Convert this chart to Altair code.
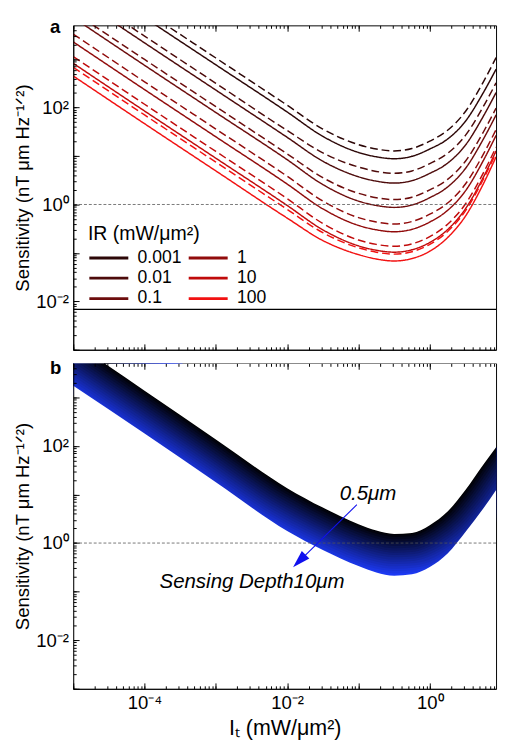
import altair as alt
import pandas as pd

FONT = "Liberation Sans"

# ---------------- data ----------------
# x positions (log10 of I_t in mW/um^2) at which the curves were read
log10_I = [-5, -4, -3, -2, -1.5, -1, -0.75, -0.5, -0.25, 0, 0.25, 0.5, 0.75, 0.93]

ir_levels = ["0.001", "0.01", "0.1", "1", "10", "100"]
ir_colors = ["#2c0707", "#4d0b0b", "#6d0d0d", "#910b0b", "#c00b0b", "#f21111"]

# panel a: log10(sensitivity)
solid_ir_0001 = [4.844, 3.859, 2.884, 1.910, 1.407, 1.075, 0.985, 0.945, 0.995, 1.146, 1.352, 1.719, 2.307, 2.794]
dashed_ir_0001 = [4.985, 4.000, 3.025, 2.050, 1.558, 1.236, 1.146, 1.106, 1.156, 1.307, 1.533, 1.920, 2.528, 3.035]
solid_ir_001 = [4.322, 3.337, 2.362, 1.387, 0.894, 0.573, 0.482, 0.442, 0.492, 0.643, 0.854, 1.226, 1.819, 2.312]
dashed_ir_001 = [4.462, 3.477, 2.503, 1.528, 1.065, 0.774, 0.683, 0.643, 0.693, 0.844, 1.055, 1.427, 2.020, 2.513]
solid_ir_01 = [3.859, 2.874, 1.899, 0.925, 0.412, 0.070, -0.020, -0.060, -0.010, 0.141, 0.362, 0.744, 1.347, 1.849]
dashed_ir_01 = [3.980, 2.995, 2.020, 1.045, 0.553, 0.231, 0.141, 0.101, 0.151, 0.302, 0.518, 0.894, 1.492, 1.990]
solid_ir_1 = [3.357, 2.372, 1.397, 0.422, -0.090, -0.432, -0.523, -0.563, -0.513, -0.362, -0.121, 0.281, 0.905, 1.427]
dashed_ir_1 = [3.518, 2.533, 1.558, 0.583, 0.070, -0.271, -0.362, -0.402, -0.352, -0.201, 0.030, 0.422, 1.035, 1.548]
solid_ir_10 = [2.915, 1.930, 0.955, -0.020, -0.523, -0.854, -0.945, -0.985, -0.935, -0.784, -0.518, -0.090, 0.558, 1.106]
dashed_ir_10 = [3.055, 2.070, 1.095, 0.121, -0.392, -0.734, -0.824, -0.864, -0.814, -0.663, -0.407, 0.010, 0.648, 1.186]
solid_ir_100 = [2.653, 1.668, 0.693, -0.281, -0.744, -1.035, -1.126, -1.166, -1.116, -0.965, -0.683, -0.241, 0.422, 0.985]
dashed_ir_100 = [2.834, 1.849, 0.874, -0.101, -0.583, -0.894, -0.985, -1.025, -0.975, -0.824, -0.558, -0.131, 0.518, 1.065]

reference_floor = 0.0068   # solid black horizontal line in panel a
unity_level = 1.0          # dashed grey line in both panels

# panel b: edges of the sensing-depth band (log10 sensitivity)
band_top_05um = [4.140, 3.137, 2.134, 1.131, 0.730, 0.389, 0.259, 0.189, 0.209, 0.369, 0.650, 1.091, 1.612, 1.973]
band_bottom_10um = [3.238, 2.255, 1.252, 0.249, -0.142, -0.473, -0.604, -0.674, -0.644, -0.493, -0.213, 0.229, 0.710, 1.091]
depths_um = [0.5, 1.0, 1.5, 2.0, 2.5, 3.0, 3.5, 4.0, 4.5, 5.0, 5.5, 6.0, 6.5, 7.0, 7.5, 8.0, 8.5, 9.0, 9.5, 10.0]

# annotation anchors (data coordinates)
arrow_start = [0.0950, 6.17]
arrow_tip = [0.0148, 0.425]
label_top = ["0.5μm", 0.0545, 10.2]
label_bottom = ["Sensing Depth10μm", 1.62e-4, 0.156]

# ---------------- tables ----------------
curves = [
    ("0.001", "solid", solid_ir_0001), ("0.001", "dashed", dashed_ir_0001),
    ("0.01", "solid", solid_ir_001), ("0.01", "dashed", dashed_ir_001),
    ("0.1", "solid", solid_ir_01), ("0.1", "dashed", dashed_ir_01),
    ("1", "solid", solid_ir_1), ("1", "dashed", dashed_ir_1),
    ("10", "solid", solid_ir_10), ("10", "dashed", dashed_ir_10),
    ("100", "solid", solid_ir_100), ("100", "dashed", dashed_ir_100),
]
rows = []
for ir, style, vals in curves:
    for lx, ly in zip(log10_I, vals):
        rows.append({"I": 10 ** lx, "S": 10 ** ly, "IR": ir, "style": style, "series": ir + style})
df_a = pd.DataFrame(rows)

df_edges = pd.DataFrame({
    "I": [10 ** v for v in log10_I],
    "S_top": [10 ** v for v in band_top_05um],
    "S_bot": [10 ** v for v in band_bottom_10um],
})
df_band = pd.DataFrame([
    {"I": 10 ** lx, "S": 10 ** ly, "depth": d}
    for d in depths_um for lx, ly in zip(log10_I, band_top_05um)
])

# ---------------- scales & axes ----------------
W, HA, HB = 434, 333, 334
X_MIN, X_MAX = 1e-5, 8.5
Y_MIN, Y_MAX = 1e-3, 5000
x_scale = alt.Scale(type="log", domain=[X_MIN, X_MAX], nice=False)
y_scale = alt.Scale(type="log", domain=[Y_MIN, Y_MAX], nice=False)

x_ticks = [m * 10.0 ** e for e in range(-5, 1) for m in range(1, 10) if m * 10.0 ** e <= X_MAX]
y_ticks = [m * 10.0 ** e for e in range(-3, 4) for m in range(1, 10) if m * 10.0 ** e < Y_MAX]
x_major = [10.0 ** e for e in range(-5, 1)]
y_major = [10.0 ** e for e in range(-3, 4)]

lg = "log(datum.value)/LN10"
x_label_expr = (f"abs({lg}+4)<0.01 ? '10⁻⁴' : abs({lg}+2)<0.01 ? '10⁻²' : "
                f"abs({lg})<0.01 ? '10⁰' : ''")
y_label_expr = (f"abs({lg}+2)<0.01 ? '10⁻²' : abs({lg})<0.01 ? '10⁰' : "
                f"abs({lg}-2)<0.01 ? '10²' : ''")

y_title = "Sensitivity (nT μm Hz⁻¹ᐟ²)"
MINOR_IN = {"expr": "-3"}
MAJOR_IN = {"expr": "-6"}


def y_axis_main():
    return alt.Axis(values=y_ticks, labelExpr=y_label_expr, title=y_title, orient="left",
                    tickSize=MINOR_IN, labelPadding=8, titlePadding=3, zindex=1)


def x_axis_main(labels):
    if labels:
        return alt.Axis(values=x_ticks, labelExpr=x_label_expr, title="Iₜ (mW/μm²)", orient="bottom",
                        tickSize=MINOR_IN, labelPadding=8, titlePadding=6, zindex=1,
                        labelFlush=False, titleFontSize=22)
    return alt.Axis(values=x_ticks, labels=False, title=None, tickSize=MINOR_IN, zindex=1,
                    orient="bottom")


def tick_axis(values, orient, size):
    return alt.Axis(values=values, labels=False, title=None, tickSize=size, zindex=1,
                    orient=orient, domain=False)


def axis_layers(df, xf, yf):
    """Invisible carriers for the extra tick sets (major ticks, top-edge ticks)."""
    base = alt.Chart(df).mark_point(opacity=0, clip=True)
    return [
        base.encode(x=alt.X(xf, scale=x_scale, axis=tick_axis(x_major, "bottom", MAJOR_IN)),
                    y=alt.Y(yf, scale=y_scale, axis=tick_axis(y_major, "left", MAJOR_IN))),
        base.encode(x=alt.X(xf, scale=x_scale, axis=tick_axis(x_ticks, "top", MINOR_IN)),
                    y=alt.Y(yf, scale=y_scale, axis=None)),
        base.encode(x=alt.X(xf, scale=x_scale, axis=tick_axis(x_major, "top", MAJOR_IN)),
                    y=alt.Y(yf, scale=y_scale, axis=None)),
    ]


def panel_letter(letter, y_px):
    return alt.Chart(pd.DataFrame({"t": [letter]})).mark_text(
        font=FONT, fontSize=19, fontWeight="bold", align="left", baseline="alphabetic",
        clip=False, color="black"
    ).encode(text="t:N", x=alt.value(-24), y=alt.value(y_px))


def unity_rule():
    return alt.Chart(pd.DataFrame({"y": [unity_level]})).mark_rule(
        color="#555555", strokeWidth=0.8, strokeDash=[3, 2]
    ).encode(y=alt.Y("y:Q", scale=y_scale, axis=None))


# ---------------- panel a ----------------
lines_a = alt.Chart(df_a).mark_line(strokeWidth=1.5, interpolate="monotone", clip=True).encode(
    x=alt.X("I:Q", scale=x_scale, axis=x_axis_main(False)),
    y=alt.Y("S:Q", scale=y_scale, axis=y_axis_main()),
    color=alt.Color("IR:N", scale=alt.Scale(domain=ir_levels, range=ir_colors),
                    legend=alt.Legend(
                        title="IR (mW/μm²)", orient="none", legendX=15, legendY=204,
                        columns=2, symbolType="M-1,0H3", symbolSize=400, symbolStrokeWidth=3,
                        labelFontSize=18, titleFontSize=20, titleFontWeight="normal",
                        titleFont=FONT, labelFont=FONT, labelOffset=28, rowPadding=0,
                        columnPadding=0, titlePadding=3, labelColor="black", titleColor="black",
                        padding=0)),
    strokeDash=alt.StrokeDash("style:N", scale=alt.Scale(domain=["solid", "dashed"],
                                                         range=[[1, 0], [8, 4]]), legend=None),
    detail="series:N",
)
floor_a = alt.Chart(pd.DataFrame({"y": [reference_floor]})).mark_rule(
    color="black", strokeWidth=1.2
).encode(y=alt.Y("y:Q", scale=y_scale, axis=None))

panel_a = alt.layer(
    lines_a, *axis_layers(df_edges, "I:Q", "S_bot:Q"), floor_a, unity_rule(), panel_letter("a", 8)
).resolve_axis(x="independent", y="independent").properties(width=W, height=HA)

# ---------------- panel b ----------------
band_layers = []
for d in reversed(depths_um):
    band_layers.append(
        alt.Chart(df_band).transform_filter(alt.datum.depth == d).mark_line(
            interpolate="monotone", clip=True, strokeJoin="round"
        ).encode(
            x=alt.X("I:Q", scale=x_scale, axis=None),
            y=alt.Y("S:Q", scale=y_scale, axis=None),
            color=alt.Color("depth:Q", scale=alt.Scale(domain=[0.5, 10], range=["#000000", "#1e3cff"],
                                                       interpolate="rgb"), legend=None),
            strokeWidth=alt.StrokeWidth("depth:Q", scale=alt.Scale(domain=[0.5, 10], range=[1.5, 90]),
                                        legend=None),
        )
    )

cover_top = alt.Chart(df_edges).mark_area(color="white", interpolate="monotone", clip=True,
                                          opacity=1).encode(
    x=alt.X("I:Q", scale=x_scale, axis=None),
    y=alt.Y("S_top:Q", scale=y_scale, axis=None),
    y2=alt.Y2(datum=Y_MAX),
)
cover_bottom = alt.Chart(df_edges).mark_area(color="white", interpolate="monotone", clip=True,
                                             opacity=1).encode(
    x=alt.X("I:Q", scale=x_scale, axis=x_axis_main(True)),
    y=alt.Y("S_bot:Q", scale=y_scale, axis=y_axis_main()),
    y2=alt.Y2(datum=Y_MIN),
)

arrow_df = pd.DataFrame({"x": [arrow_start[0]], "y": [arrow_start[1]],
                         "x2": [arrow_tip[0]], "y2": [arrow_tip[1]]})
arrow_line = alt.Chart(arrow_df).mark_rule(color="#1010ee", strokeWidth=1.1).encode(
    x=alt.X("x:Q", scale=x_scale, axis=None), y=alt.Y("y:Q", scale=y_scale, axis=None),
    x2="x2:Q", y2="y2:Q",
)
arrow_head = alt.Chart(arrow_df).mark_point(
    shape="M0,-1L0.6,1L-0.6,1Z", filled=True, color="#1010ee", size=330, angle=225, opacity=1
).encode(x=alt.X("x2:Q", scale=x_scale, axis=None), y=alt.Y("y2:Q", scale=y_scale, axis=None))

ann_df = pd.DataFrame({"t": [label_top[0], label_bottom[0]],
                       "x": [label_top[1], label_bottom[1]],
                       "y": [label_top[2], label_bottom[2]]})
ann = alt.Chart(ann_df).mark_text(
    font=FONT, fontSize=21, fontStyle="italic", align="left", baseline="middle", color="black"
).encode(text="t:N", x=alt.X("x:Q", scale=x_scale, axis=None),
         y=alt.Y("y:Q", scale=y_scale, axis=None))

panel_b = alt.layer(
    *band_layers, cover_top, cover_bottom, *axis_layers(df_edges, "I:Q", "S_bot:Q"),
    unity_rule(), arrow_line, arrow_head, ann, panel_letter("b", 11)
).resolve_axis(x="independent", y="independent").properties(width=W, height=HB)

chart = alt.vconcat(panel_a, panel_b, spacing=14, bounds="flush").properties(
    padding={"left": 6, "top": 0, "right": 0, "bottom": 0}
).configure(font=FONT).configure_view(stroke="black", strokeWidth=1).configure_axis(
    labelFont=FONT, titleFont=FONT, labelFontSize=19, titleFontSize=19, titleFontWeight="normal",
    labelColor="black", titleColor="black", domainColor="black", tickColor="black",
    domainWidth=1, tickWidth=1, grid=False
)

chart.save("out.html", embed_options={"renderer": "svg", "actions": False})
